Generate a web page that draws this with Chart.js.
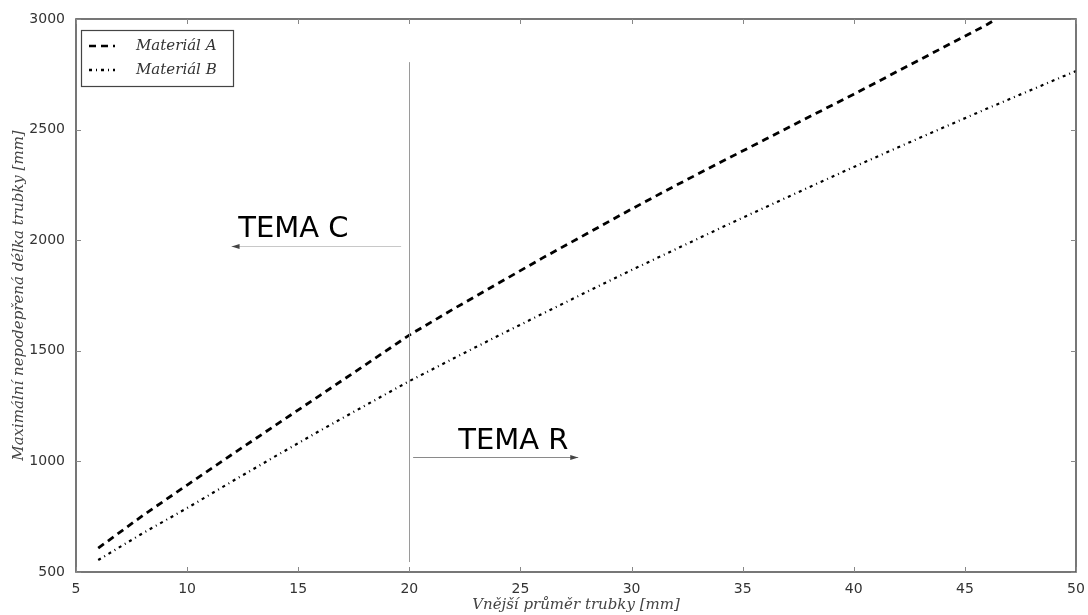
<!DOCTYPE html>
<html><head><meta charset="utf-8">
<script src="https://cdn.jsdelivr.net/npm/chart.js@4.4.1/dist/chart.umd.min.js"></script>
<style>html,body{margin:0;padding:0;background:#fff}#wrap{width:1088px;height:615px}</style>
</head><body><div id="wrap"><canvas id="c" width="1088" height="615"></canvas></div>
<script>
const diameterA = [6,8,10,12,14,16,18,20,22,24,26,28,30,32,34,36,38,40,42,44,46,46.4];
const lengthA   = [608,755,893,1030,1165,1300,1435,1571,1690,1805,1920,2030,2141,2248,2352,2455,2558,2660,2765,2870,2975,3000];
const diameterB = [6,8,10,12,14,16,18,20,22,24,26,28,30,32,34,36,38,40,42,44,46,48,50];
const lengthB   = [554,675,789,908,1025,1140,1252,1363,1466,1568,1668,1767,1865,1960,2055,2148,2240,2331,2420,2508,2595,2680,2765];
const xTicks = [5,10,15,20,25,30,35,40,45,50];
const yTicks = [500,1000,1500,2000,2500,3000];
const seriesNames = ['Materiál A','Materiál B'];
const xTitle = 'Vnější průměr trubky [mm]';
const yTitle = 'Maximální nepodepřená délka trubky [mm]';
// annotation data (data coordinates)
const limitX = 20, limitY = [545, 2805];
const temaC = {text:'TEMA C', tx:12.3, ty:2014, ax:[19.63,12.0], ay:1973};
const temaR = {text:'TEMA R', tx:22.2, ty:1056, ax:[20.17,27.6], ay:1020};

const toPts = (xs, ys) => xs.map((x,i)=>({x, y: ys[i]}));

const decor = {
  id:'decor',
  afterDatasetsDraw(chart){
    const {ctx, chartArea:a, scales:{x, y}} = chart;
    ctx.save();
    ctx.strokeStyle = '#9a9a9a'; ctx.lineWidth = 1;
    ctx.beginPath();
    ctx.moveTo(Math.round(x.getPixelForValue(limitX))+0.5, y.getPixelForValue(limitY[1]));
    ctx.lineTo(Math.round(x.getPixelForValue(limitX))+0.5, y.getPixelForValue(limitY[0]));
    ctx.stroke();
    const arrow = (t, col) => {
      const x0 = x.getPixelForValue(t.ax[0]), x1 = x.getPixelForValue(t.ax[1]);
      const yy = Math.round(y.getPixelForValue(t.ay))+0.5;
      ctx.strokeStyle = col; ctx.lineWidth = 1;
      ctx.beginPath(); ctx.moveTo(x0, yy); ctx.lineTo(x1, yy); ctx.stroke();
      const dir = Math.sign(x1 - x0);
      ctx.fillStyle = '#444';
      ctx.beginPath(); ctx.moveTo(x1, yy); ctx.lineTo(x1 - dir*8, yy-2.5); ctx.lineTo(x1 - dir*8, yy+2.5); ctx.closePath(); ctx.fill();
      ctx.fillStyle = '#000';
      ctx.font = '29px "DejaVu Sans"'; ctx.textAlign='left'; ctx.textBaseline='alphabetic';
      ctx.fillText(t.text, x.getPixelForValue(t.tx), y.getPixelForValue(t.ty));
    };
    arrow(temaC, '#c8c8c8');
    arrow(temaR, '#8a8a8a');
    ctx.strokeStyle = '#555'; ctx.lineWidth = 1.6;
    ctx.strokeRect(a.left, a.top, a.right-a.left, a.bottom-a.top);
    ctx.lineWidth = 1; ctx.strokeStyle = '#888';
    xTicks.forEach(v=>{const px=Math.round(x.getPixelForValue(v))+0.5;
      ctx.beginPath(); ctx.moveTo(px,a.bottom); ctx.lineTo(px,a.bottom-5); ctx.moveTo(px,a.top); ctx.lineTo(px,a.top+5); ctx.stroke();});
    yTicks.forEach(v=>{const py=Math.round(y.getPixelForValue(v))+0.5;
      ctx.beginPath(); ctx.moveTo(a.left,py); ctx.lineTo(a.left+5,py); ctx.moveTo(a.right,py); ctx.lineTo(a.right-5,py); ctx.stroke();});
    const lx = a.left+5, ly = a.top+11, lw = 152, lh = 56;
    ctx.fillStyle='#fff'; ctx.fillRect(lx,ly,lw,lh);
    ctx.strokeStyle='#444'; ctx.lineWidth=1.2; ctx.strokeRect(lx+0.5,ly+0.5,lw,lh);
    chart.data.datasets.forEach((ds,i)=>{
      const yy = ly + 16 + i*24;
      ctx.strokeStyle='#000'; ctx.lineWidth=2.5; ctx.setLineDash(ds.borderDash);
      ctx.beginPath(); ctx.moveTo(lx+8, yy); ctx.lineTo(lx+34, yy); ctx.stroke();
      ctx.setLineDash([]);
      ctx.fillStyle='#333'; ctx.font='italic 15px "DejaVu Serif"'; ctx.textBaseline='middle'; ctx.textAlign='left';
      ctx.fillText(ds.label, lx+55, yy);
    });
    ctx.restore();
  }
};

new Chart(document.getElementById('c'), {
  type:'line',
  data:{datasets:[
    {label:seriesNames[0], data:toPts(diameterA,lengthA), borderColor:'#000', borderWidth:2.8, borderDash:[7,5], pointRadius:0, fill:false, tension:0},
    {label:seriesNames[1], data:toPts(diameterB,lengthB), borderColor:'#000', borderWidth:2.2, borderDash:[3,4,1,4], pointRadius:0, fill:false, tension:0}
  ]},
  options:{
    responsive:false, animation:false, devicePixelRatio:1,
    layout:{padding:{top:19, right:12, left:0, bottom:0}},
    plugins:{legend:{display:false}, tooltip:{enabled:false}},
    scales:{
      x:{type:'linear', min:5, max:50, afterBuildTicks:s=>{s.ticks=xTicks.map(v=>({value:v}));},
         grid:{display:false}, border:{display:false},
         ticks:{color:'#333', font:{family:'DejaVu Sans', size:14}, padding:1, maxRotation:0, callback:v=>String(v)},
         title:{display:true, text:xTitle, color:'#444', font:{family:'DejaVu Serif', style:'italic', size:15}, padding:{top:0,bottom:1}},
         afterFit:s=>{s.height=43;}},
      y:{type:'linear', min:500, max:3000, afterBuildTicks:s=>{s.ticks=yTicks.map(v=>({value:v}));},
         grid:{display:false}, border:{display:false},
         ticks:{color:'#333', font:{family:'DejaVu Sans', size:14}, padding:3, callback:v=>String(v)},
         title:{display:true, text:yTitle, color:'#444', font:{family:'DejaVu Serif', style:'italic', size:15}, padding:{top:10,bottom:4}},
         afterFit:s=>{s.width=76;}}
    }
  },
  plugins:[decor]
});
</script></body></html>
